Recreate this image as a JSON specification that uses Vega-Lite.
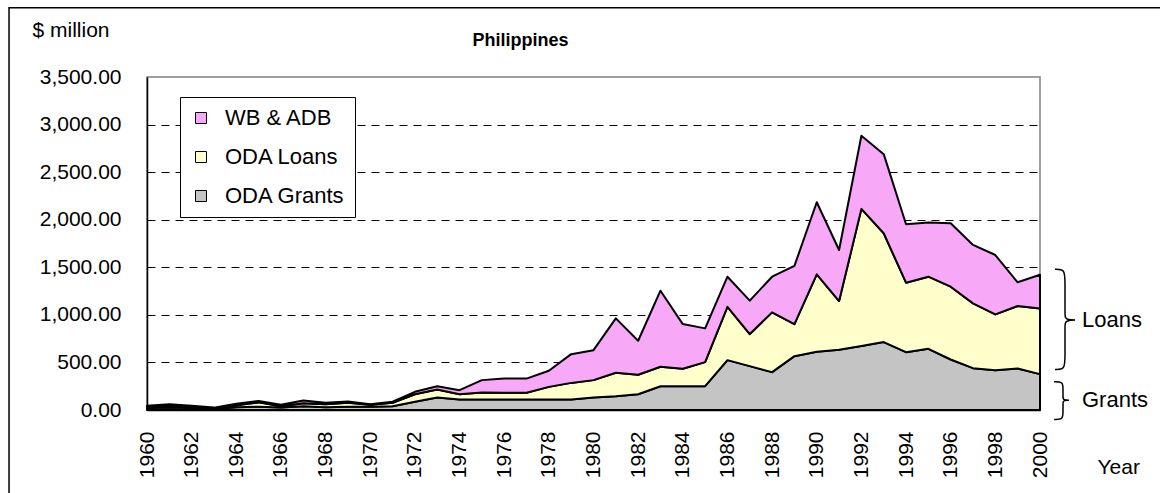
{
  "$schema": "https://vega.github.io/schema/vega-lite/v6.json",
  "width": 893,
  "height": 333,
  "autosize": {"type": "none"},
  "padding": {"left": 147, "top": 77, "right": 120, "bottom": 83},
  "background": "white",
  "title": {"text": "Philippines", "anchor": "middle", "dx": -73, "frame": "group", "offset": -57, "baseline": "alphabetic", "fontSize": 18, "fontWeight": "bold", "font": "Liberation Sans", "color": "black"},
  "datasets": {
    "aid": [
      {"year":1960,"series":"ODA Grants","value":20},{"year":1960,"series":"ODA Loans","value":10},{"year":1960,"series":"WB & ADB","value":15},
      {"year":1961,"series":"ODA Grants","value":25},{"year":1961,"series":"ODA Loans","value":15},{"year":1961,"series":"WB & ADB","value":20},
      {"year":1962,"series":"ODA Grants","value":20},{"year":1962,"series":"ODA Loans","value":10},{"year":1962,"series":"WB & ADB","value":15},
      {"year":1963,"series":"ODA Grants","value":10},{"year":1963,"series":"ODA Loans","value":5},{"year":1963,"series":"WB & ADB","value":10},
      {"year":1964,"series":"ODA Grants","value":30},{"year":1964,"series":"ODA Loans","value":20},{"year":1964,"series":"WB & ADB","value":15},
      {"year":1965,"series":"ODA Grants","value":35},{"year":1965,"series":"ODA Loans","value":45},{"year":1965,"series":"WB & ADB","value":15},
      {"year":1966,"series":"ODA Grants","value":25},{"year":1966,"series":"ODA Loans","value":15},{"year":1966,"series":"WB & ADB","value":15},
      {"year":1967,"series":"ODA Grants","value":40},{"year":1967,"series":"ODA Loans","value":30},{"year":1967,"series":"WB & ADB","value":30},
      {"year":1968,"series":"ODA Grants","value":30},{"year":1968,"series":"ODA Loans","value":30},{"year":1968,"series":"WB & ADB","value":15},
      {"year":1969,"series":"ODA Grants","value":33},{"year":1969,"series":"ODA Loans","value":42},{"year":1969,"series":"WB & ADB","value":15},
      {"year":1970,"series":"ODA Grants","value":33},{"year":1970,"series":"ODA Loans","value":21},{"year":1970,"series":"WB & ADB","value":6},
      {"year":1971,"series":"ODA Grants","value":40},{"year":1971,"series":"ODA Loans","value":35},{"year":1971,"series":"WB & ADB","value":13},
      {"year":1972,"series":"ODA Grants","value":86},{"year":1972,"series":"ODA Loans","value":80},{"year":1972,"series":"WB & ADB","value":25},
      {"year":1973,"series":"ODA Grants","value":131},{"year":1973,"series":"ODA Loans","value":84},{"year":1973,"series":"WB & ADB","value":35},
      {"year":1974,"series":"ODA Grants","value":110},{"year":1974,"series":"ODA Loans","value":56},{"year":1974,"series":"WB & ADB","value":42},
      {"year":1975,"series":"ODA Grants","value":110},{"year":1975,"series":"ODA Loans","value":74},{"year":1975,"series":"WB & ADB","value":130},
      {"year":1976,"series":"ODA Grants","value":110},{"year":1976,"series":"ODA Loans","value":72},{"year":1976,"series":"WB & ADB","value":148},
      {"year":1977,"series":"ODA Grants","value":110},{"year":1977,"series":"ODA Loans","value":72},{"year":1977,"series":"WB & ADB","value":148},
      {"year":1978,"series":"ODA Grants","value":110},{"year":1978,"series":"ODA Loans","value":133},{"year":1978,"series":"WB & ADB","value":169},
      {"year":1979,"series":"ODA Grants","value":110},{"year":1979,"series":"ODA Loans","value":175},{"year":1979,"series":"WB & ADB","value":302},
      {"year":1980,"series":"ODA Grants","value":131},{"year":1980,"series":"ODA Loans","value":183},{"year":1980,"series":"WB & ADB","value":315},
      {"year":1981,"series":"ODA Grants","value":145},{"year":1981,"series":"ODA Loans","value":246},{"year":1981,"series":"WB & ADB","value":572},
      {"year":1982,"series":"ODA Grants","value":166},{"year":1982,"series":"ODA Loans","value":204},{"year":1982,"series":"WB & ADB","value":358},
      {"year":1983,"series":"ODA Grants","value":250},{"year":1983,"series":"ODA Loans","value":204},{"year":1983,"series":"WB & ADB","value":800},
      {"year":1984,"series":"ODA Grants","value":250},{"year":1984,"series":"ODA Loans","value":183},{"year":1984,"series":"WB & ADB","value":470},
      {"year":1985,"series":"ODA Grants","value":250},{"year":1985,"series":"ODA Loans","value":253},{"year":1985,"series":"WB & ADB","value":355},
      {"year":1986,"series":"ODA Grants","value":524},{"year":1986,"series":"ODA Loans","value":561},{"year":1986,"series":"WB & ADB","value":316},
      {"year":1987,"series":"ODA Grants","value":461},{"year":1987,"series":"ODA Loans","value":337},{"year":1987,"series":"WB & ADB","value":351},
      {"year":1988,"series":"ODA Grants","value":398},{"year":1988,"series":"ODA Loans","value":628},{"year":1988,"series":"WB & ADB","value":375},
      {"year":1989,"series":"ODA Grants","value":566},{"year":1989,"series":"ODA Loans","value":337},{"year":1989,"series":"WB & ADB","value":611},
      {"year":1990,"series":"ODA Grants","value":612},{"year":1990,"series":"ODA Loans","value":814},{"year":1990,"series":"WB & ADB","value":758},
      {"year":1991,"series":"ODA Grants","value":633},{"year":1991,"series":"ODA Loans","value":512},{"year":1991,"series":"WB & ADB","value":537},
      {"year":1992,"series":"ODA Grants","value":672},{"year":1992,"series":"ODA Loans","value":1442},{"year":1992,"series":"WB & ADB","value":768},
      {"year":1993,"series":"ODA Grants","value":714},{"year":1993,"series":"ODA Loans","value":1144},{"year":1993,"series":"WB & ADB","value":831},
      {"year":1994,"series":"ODA Grants","value":608},{"year":1994,"series":"ODA Loans","value":730},{"year":1994,"series":"WB & ADB","value":614},
      {"year":1995,"series":"ODA Grants","value":643},{"year":1995,"series":"ODA Loans","value":758},{"year":1995,"series":"WB & ADB","value":569},
      {"year":1996,"series":"ODA Grants","value":531},{"year":1996,"series":"ODA Loans","value":765},{"year":1996,"series":"WB & ADB","value":667},
      {"year":1997,"series":"ODA Grants","value":440},{"year":1997,"series":"ODA Loans","value":681},{"year":1997,"series":"WB & ADB","value":614},
      {"year":1998,"series":"ODA Grants","value":419},{"year":1998,"series":"ODA Loans","value":586},{"year":1998,"series":"WB & ADB","value":624},
      {"year":1999,"series":"ODA Grants","value":437},{"year":1999,"series":"ODA Loans","value":656},{"year":1999,"series":"WB & ADB","value":249},
      {"year":2000,"series":"ODA Grants","value":377},{"year":2000,"series":"ODA Loans","value":691},{"year":2000,"series":"WB & ADB","value":354}
    ],
    "braces": [
      {"brace":"Loans","i":0,"year":2000.67,"value":1479},
      {"brace":"Loans","i":1,"year":2001.12,"value":1479},
      {"brace":"Loans","i":2,"year":2001.12,"value":1350},
      {"brace":"Loans","i":3,"year":2001.12,"value":1000},
      {"brace":"Loans","i":4,"year":2001.12,"value":945},
      {"brace":"Loans","i":5,"year":2001.8,"value":945},
      {"brace":"Loans","i":6,"year":2001.12,"value":945},
      {"brace":"Loans","i":7,"year":2001.12,"value":890},
      {"brace":"Loans","i":8,"year":2001.12,"value":550},
      {"brace":"Loans","i":9,"year":2001.12,"value":426},
      {"brace":"Loans","i":10,"year":2000.67,"value":426},
      {"brace":"Grants","i":0,"year":2000.63,"value":296},
      {"brace":"Grants","i":1,"year":2001.03,"value":296},
      {"brace":"Grants","i":2,"year":2001.03,"value":230},
      {"brace":"Grants","i":3,"year":2001.03,"value":130},
      {"brace":"Grants","i":4,"year":2001.03,"value":103},
      {"brace":"Grants","i":5,"year":2001.43,"value":103},
      {"brace":"Grants","i":6,"year":2001.03,"value":103},
      {"brace":"Grants","i":7,"year":2001.03,"value":76},
      {"brace":"Grants","i":8,"year":2001.03,"value":-20},
      {"brace":"Grants","i":9,"year":2001.03,"value":-100},
      {"brace":"Grants","i":10,"year":2000.63,"value":-100}
    ],
    "notes": [
      {"label":"Loans","year":2001.88,"value":945},
      {"label":"Grants","year":2001.88,"value":103}
    ],
    "frame": [
      {"year":1953.82,"year2":2012,"value":4229,"value2":-2000}
    ]
  },
  "layer": [
    {
      "data": {"name": "frame"},
      "mark": {"type": "rect", "fill": "white", "fillOpacity": 0, "stroke": "black", "strokeWidth": 1.5, "clip": false},
      "encoding": {
        "x": {"field": "year", "type": "quantitative"},
        "x2": {"field": "year2"},
        "y": {"field": "value", "type": "quantitative"},
        "y2": {"field": "value2"}
      }
    },
    {
      "data": {"name": "aid"},
      "mark": {"type": "area", "stroke": "black", "strokeWidth": 2, "strokeJoin": "round", "opacity": 1, "clip": false},
      "encoding": {
        "x": {
          "field": "year",
          "type": "quantitative",
          "scale": {"domain": [1960, 2000], "nice": false, "zero": false},
          "axis": {
            "title": "Year",
            "titleX": 950,
            "titleY": 63,
            "titleAlign": "left",
            "titleBaseline": "alphabetic",
            "titleFontSize": 21,
            "titleFontWeight": "normal",
            "titleColor": "black",
            "values": [1960,1962,1964,1966,1968,1970,1972,1974,1976,1978,1980,1982,1984,1986,1988,1990,1992,1994,1996,1998,2000],
            "format": "d",
            "labelAngle": -90,
            "labelFontSize": 21,
            "labelColor": "black",
            "labelPadding": 21,
            "labelFlush": false,
            "labelOverlap": false,
            "ticks": false,
            "grid": false,
            "domainColor": "black",
            "domainWidth": 1.5
          }
        },
        "y": {
          "field": "value",
          "type": "quantitative",
          "stack": "zero",
          "scale": {"domain": [0, 3500], "nice": false},
          "axis": {
            "title": "$ million",
            "titleAngle": 0,
            "titleX": -115,
            "titleY": -41,
            "titleAlign": "left",
            "titleBaseline": "alphabetic",
            "titleFontSize": 21,
            "titleFontWeight": "normal",
            "titleColor": "black",
            "values": [0, 500, 1000, 1500, 2000, 2500, 3000, 3500],
            "format": ",.2f",
            "labelFontSize": 21,
            "labelColor": "black",
            "labelPadding": 26,
            "ticks": false,
            "domainColor": "black",
            "domainWidth": 1.5,
            "grid": true,
            "gridColor": "black",
            "gridDash": [8, 6],
            "gridWidth": 1,
            "gridOpacity": {"condition": {"test": "datum.value === 3500 || datum.value === 0", "value": 0}, "value": 1}
          }
        },
        "color": {
          "field": "series",
          "type": "nominal",
          "scale": {"domain": ["WB & ADB", "ODA Loans", "ODA Grants"], "range": ["#F7A8F7", "#FFFFCC", "#C4C4C4"]},
          "legend": {
            "orient": "none",
            "legendX": 33,
            "legendY": 20,
            "title": null,
            "fillColor": "white",
            "strokeColor": "black",
            "padding": 10,
            "symbolType": "square",
            "symbolSize": 121,
            "symbolStrokeColor": "black",
            "symbolStrokeWidth": 1,
            "symbolOpacity": 1,
            "labelFontSize": 22,
            "labelColor": "black",
            "labelOffset": 13,
            "rowPadding": 17
          }
        },
        "order": {"field": "series", "sort": "ascending"}
      }
    },
    {
      "data": {"name": "braces"},
      "mark": {"type": "line", "interpolate": "basis", "stroke": "black", "strokeWidth": 1.5, "clip": false},
      "encoding": {
        "x": {"field": "year", "type": "quantitative"},
        "y": {"field": "value", "type": "quantitative"},
        "detail": {"field": "brace"},
        "order": {"field": "i"}
      }
    },
    {
      "data": {"name": "notes"},
      "mark": {"type": "text", "align": "left", "baseline": "middle", "fontSize": 22, "color": "black", "clip": false},
      "encoding": {
        "x": {"field": "year", "type": "quantitative"},
        "y": {"field": "value", "type": "quantitative"},
        "text": {"field": "label"}
      }
    }
  ],
  "config": {
    "font": "Liberation Sans",
    "view": {"stroke": "#808080", "strokeWidth": 1.5}
  }
}
